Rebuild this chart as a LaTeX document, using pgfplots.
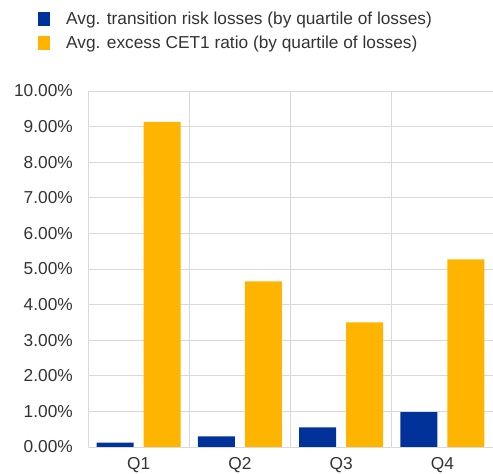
\documentclass[border=0pt]{standalone}
\usepackage{pgfplots}
\pgfplotsset{compat=1.18}
\usepackage{fontspec}
\setmainfont{Liberation Sans}
\definecolor{ecbblue}{HTML}{003299}
\definecolor{ecbyellow}{HTML}{FFB400}
\definecolor{gridgray}{HTML}{D9D9D9}
\definecolor{txt}{HTML}{333333}
\begin{document}
\begin{tikzpicture}[x=1pt,y=1pt]
\useasboundingbox (0,0) rectangle (493,474);
\begin{axis}[
  at={(88pt,27pt)}, anchor=south west,
  scale only axis, width=405pt, height=356pt,
  xmin=-0.5, xmax=3.5, ymin=0, ymax=10,
  ybar=10pt, bar width=37pt,
  xtick={0,1,2,3}, xticklabels={Q1,Q2,Q3,Q4},
  minor xtick={0.5,1.5,2.5}, xminorgrids,
  minor grid style={gridgray, line width=0.8pt},
  ytick={0,1,...,10}, ymajorgrids,
  major grid style={gridgray, line width=0.8pt},
  axis line style={gridgray, line width=0.8pt},
  major tick length=0pt, minor tick length=0pt,
  tick style={draw=none},
  /pgf/number format/assume math mode=true,
  ticklabel style={font=\fontsize{17.3}{20}\selectfont, text=txt, inner sep=0pt},
  yticklabel={\pgfmathprintnumber[fixed,fixed zerofill,precision=2]{\tick}\%},
  yticklabel style={anchor=east, xshift=-15pt},
  xticklabel style={anchor=north, yshift=-10pt},
  legend style={draw=none, fill=none, at={(rel axis cs:-0.1235,1.2219)}, anchor=north west,
    inner sep=0pt, row sep=10pt, font=\fontsize{17.3}{20}\selectfont, text=txt,
    nodes={inner sep=0pt}},
  legend cell align=left,
  legend image code/.code={\fill[#1] (0pt,-7pt) rectangle (12pt,7pt); \path (28pt,0pt);},
]
\addplot[fill=ecbblue, draw=none] coordinates {(0,0.12) (1,0.30) (2,0.55) (3,0.98)};
\addplot[fill=ecbyellow, draw=none] coordinates {(0,9.13) (1,4.65) (2,3.50) (3,5.27)};
\legend{Avg. transition risk losses (by quartile of losses),Avg. excess CET1 ratio (by quartile of losses)}
\end{axis}
\end{tikzpicture}
\end{document}
